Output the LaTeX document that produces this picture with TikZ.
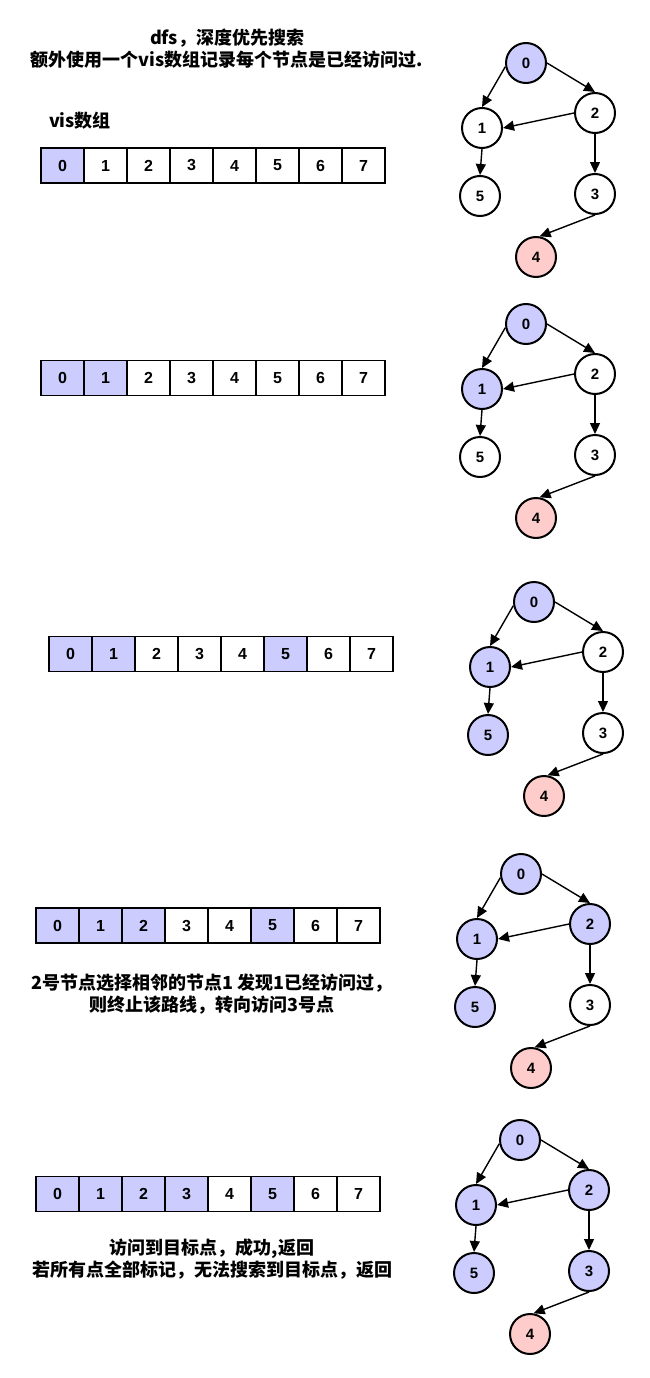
\documentclass[tikz,border=0pt]{standalone}
\usepackage{fontspec}
\setmainfont{Liberation Sans}
\newfontfamily\cjkfont{Noto Sans CJK SC}
\usetikzlibrary{arrows.meta}
\definecolor{visblue}{HTML}{CCCCFF}
\definecolor{goalred}{HTML}{FFCCCC}
\tikzset{
  cell/.style={draw,line width=1.5pt,minimum width=43pt,minimum height=35pt,inner sep=0pt,font=\fontsize{16}{16}\selectfont\bfseries},
  vcell/.style={cell,fill=visblue},
  gnode/.style={circle,draw,line width=2pt,minimum size=40pt,inner sep=0pt,fill=white,font=\fontsize{15}{15}\selectfont\bfseries},
  vis/.style={fill=visblue},
  goal/.style={fill=goalred},
  plain/.style={},
  edge/.style={-{Triangle[length=11pt,width=10pt]},line width=1.4pt},
  note/.style={align=center,font=\cjkfont\bfseries\fontsize{18}{22}\selectfont}
}
\newcommand{\dfsgraph}[8]{%
  \begin{scope}[shift={#2}]
    \node[gnode,#3] (#1n0) at (0,0) {0};
    \node[gnode,#4] (#1n1) at (-44,65) {1};
    \node[gnode,#5] (#1n2) at (69,50) {2};
    \node[gnode,#6] (#1n3) at (69,131) {3};
    \node[gnode,#7] (#1n4) at (10,194) {4};
    \node[gnode,#8] (#1n5) at (-46,133) {5};
    \draw[edge] (#1n0.190) -- (#1n1.north);
    \draw[edge] (#1n0.east) -- (#1n2.north);
    \draw[edge] (#1n2.west) -- (#1n1.east);
    \draw[edge] (#1n1.south) -- (#1n5.north);
    \draw[edge] (#1n2.south) -- (#1n3.north);
    \draw[edge] (#1n3.south) -- (#1n4.80);
  \end{scope}}

\begin{document}
\begin{tikzpicture}[x=1pt,y=-1pt]
	\useasboundingbox (0,0) rectangle (650,1378);

	\node[note] (title) at (227,49) {dfs，深度优先搜索\\额外使用一个vis数组记录每个节点是已经访问过.};
	\node[note] (vislabel) at (80,121) {vis数组};
	\foreach \i/\s in {0/vcell,1/cell,2/cell,3/cell,4/cell,5/cell,6/cell,7/cell}
		\node[\s] (a1c\i) at ({62.5+43*\i},165.5) {\i};
	\dfsgraph{g1}{(526,63)}{vis}{plain}{plain}{plain}{goal}{plain}

	\foreach \i/\s in {0/vcell,1/vcell,2/cell,3/cell,4/cell,5/cell,6/cell,7/cell}
		\node[\s] (a2c\i) at ({62.5+43*\i},378) {\i};
	\dfsgraph{g2}{(526,324)}{vis}{vis}{plain}{plain}{goal}{plain}

	\foreach \i/\s in {0/vcell,1/vcell,2/cell,3/cell,4/cell,5/vcell,6/cell,7/cell}
		\node[\s] (a3c\i) at ({70.5+43*\i},654) {\i};
	\dfsgraph{g3}{(534,602)}{vis}{vis}{plain}{plain}{goal}{vis}

	\foreach \i/\s in {0/vcell,1/vcell,2/vcell,3/cell,4/cell,5/vcell,6/cell,7/cell}
		\node[\s] (a4c\i) at ({57.5+43*\i},925.5) {\i};
	\node[note] (step4) at (212,994) {2号节点选择相邻的节点1 发现1已经访问过，\\则终止该路线，转向访问3号点};
	\dfsgraph{g4}{(521,874)}{vis}{vis}{vis}{plain}{goal}{vis}

	\foreach \i/\s in {0/vcell,1/vcell,2/vcell,3/vcell,4/cell,5/vcell,6/cell,7/cell}
		\node[\s] (a5c\i) at ({57.5+43*\i},1194) {\i};
	\node[note] (step5) at (212,1259) {访问到目标点，成功,返回\\若所有点全部标记，无法搜索到目标点，返回};
	\dfsgraph{g5}{(520,1140)}{vis}{vis}{vis}{vis}{goal}{vis}
\end{tikzpicture}
\end{document}
